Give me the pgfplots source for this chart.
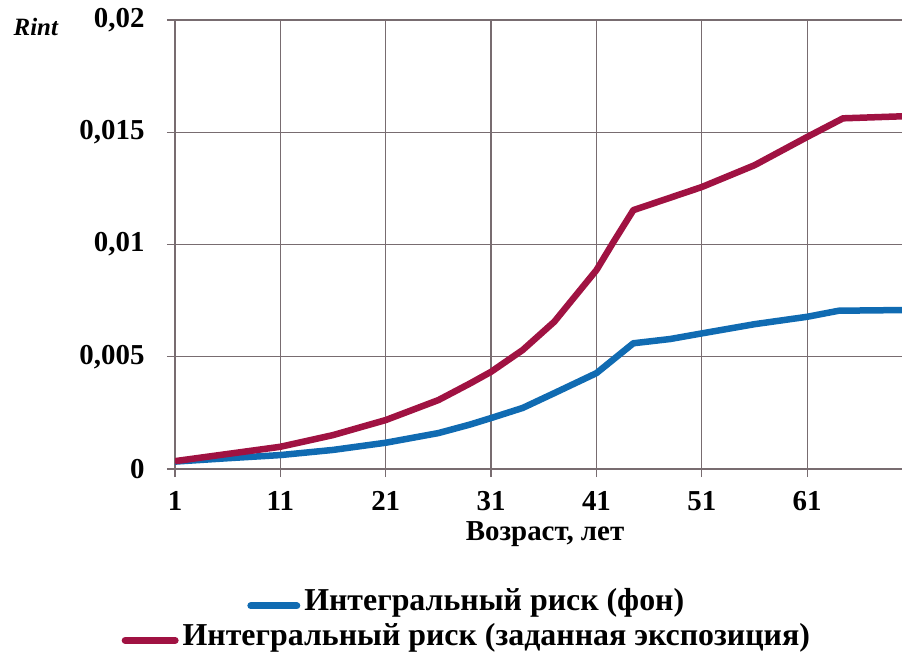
\documentclass[border=0pt]{standalone}
\usepackage{fontspec}
\setmainfont{Liberation Serif}
\usepackage{pgfplots}
\pgfplotsset{compat=1.18}
\definecolor{bluel}{RGB}{16,107,178}
\definecolor{redl}{RGB}{160,18,66}
\definecolor{gridc}{RGB}{120,108,112}
\begin{document}
\begin{tikzpicture}
\useasboundingbox (0,0) rectangle (902bp,653bp);
\begin{axis}[
  at={(175bp,184bp)}, anchor=south west,
  scale only axis, width=727bp, height=449bp,
  xmin=1, xmax=70, ymin=0, ymax=0.02,
  xtick={1,11,21,31,41,51,61},
  ytick={0,0.005,0.01,0.015,0.02},
  yticklabels={0,{0,005},{0,01},{0,015},{0,02}},
  scaled y ticks=false,
  axis line style={draw=none},
  grid=major,
  grid style={gridc, line width=1.3bp},
  tick style={gridc, line width=1.3bp},
  tick align=outside, major tick length=8bp,
  xtick pos=bottom, ytick pos=left,
  tick label style={font=\fontsize{29}{32}\selectfont\bfseries},
  /pgf/number format/assume math mode=true,
  xticklabel style={yshift=-11bp},
  yticklabel style={xshift=-19bp},
  xlabel={Возраст, лет},
  xlabel style={font=\fontsize{29}{32}\selectfont\bfseries, at={(rel axis cs:0.509,0)}, anchor=center, yshift=-65bp},
  ylabel={\textbf{\textit{Rint}}},
  ylabel style={font=\fontsize{25}{28}\selectfont, rotate=-90, at={(rel axis cs:-0.191,0.985)}, anchor=center},
  legend style={draw=none, fill=none, at={(rel axis cs:0.40,-0.262)}, anchor=north,
    font=\fontsize{32}{36}\selectfont\bfseries, row sep=7bp, inner sep=0pt},
  legend cell align=center,
  legend image code/.code={},
]
\addplot[bluel, line width=6.5bp, line join=round] coordinates {
(1,0.00033) (6,0.00048) (11,0.00062) (16,0.00085) (21,0.00117) (26,0.00160)
(29,0.00198) (31,0.00227) (34,0.00272) (37,0.00338) (41,0.00427) (44.5,0.0056)
(48,0.00579) (51,0.00604) (56,0.00645) (61,0.00678) (64,0.00705) (70,0.00708)
};
\addlegendentry{\tikz[baseline=-0.35ex]\draw[bluel, line width=7bp, line cap=round] (0,0) -- (46bp,0);\hspace{4bp}Интегральный риск (фон)}
\addplot[redl, line width=6.5bp, line join=round] coordinates {
(1,0.00035) (6,0.00067) (11,0.00099) (16,0.00151) (21,0.00218) (26,0.00307)
(29,0.00381) (31,0.00433) (34,0.0053) (37,0.00656) (41,0.00886) (42.6,0.0101)
(44.5,0.01153) (51,0.01256) (56,0.01353) (61,0.01479) (64.4,0.01562) (70,0.01571)
};
\addlegendentry{\tikz[baseline=-0.35ex]\draw[redl, line width=7bp, line cap=round] (0,0) -- (50bp,0);\hspace{4bp}Интегральный риск (заданная экспозиция)}
\end{axis}
\end{tikzpicture}
\end{document}
